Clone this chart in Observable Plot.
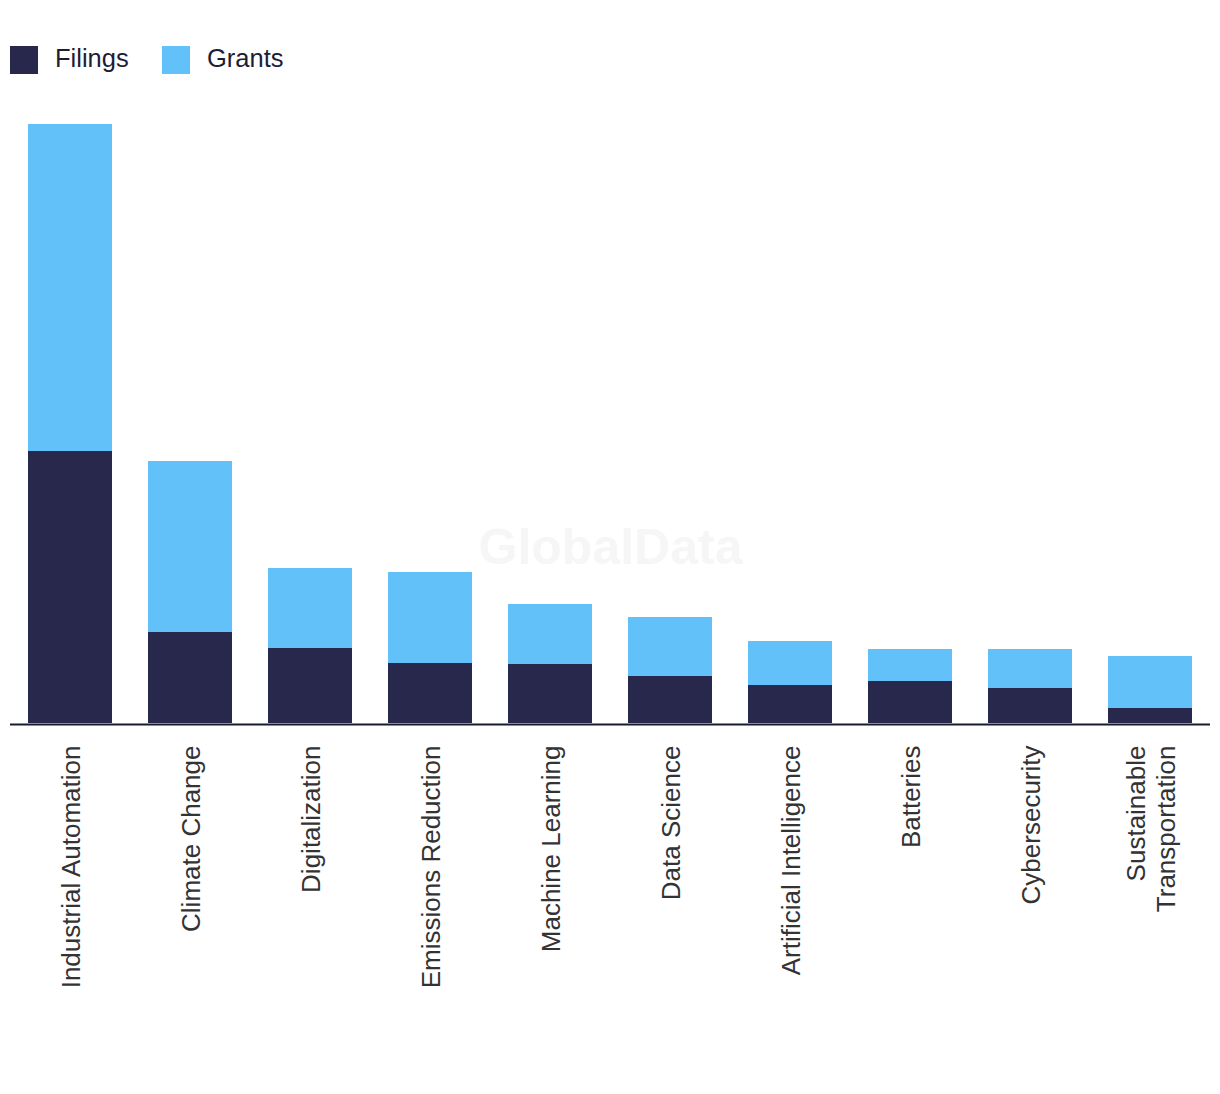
<!DOCTYPE html>
<html>
<head>
<meta charset="utf-8">
<script src="https://cdn.jsdelivr.net/npm/d3@7"></script>
<script src="https://cdn.jsdelivr.net/npm/@observablehq/plot@0.6"></script>
<style>
  html, body { margin: 0; padding: 0; background: #fff; }
  #wrap { position: relative; width: 1220px; height: 1094px; }
  #legend { position: relative; height: 100px; font-family: "Liberation Sans", Arial, sans-serif; font-size: 25.5px; color: #1d1d35; }
  .sw { position: absolute; top: 46px; width: 28px; height: 28px; }
  .lb { position: absolute; top: 42px; line-height: 32px; }
  #chart svg { display: block; }
</style>
</head>
<body>
<div id="wrap">
  <div id="legend"></div>
  <div id="chart"></div>
</div>
<script>
const categories = ["Industrial Automation", "Climate Change", "Digitalization", "Emissions Reduction", "Machine Learning", "Data Science", "Artificial Intelligence", "Batteries", "Cybersecurity", "Sustainable Transportation"];
const filings = [272, 91, 75, 60, 59, 47, 38, 42, 35, 15];
const grants = [327, 171, 80, 91, 60, 59, 44, 32, 39, 52];
const seriesNames = ["Filings", "Grants"];
const seriesColors = ["#27284c", "#62c1f9"];
const tickLabels = {"Sustainable Transportation": "Sustainable\nTransportation"};

// legend
const legend = document.getElementById("legend");
const legendX = [10, 162];
seriesNames.forEach((s, i) => {
  const sw = document.createElement("div");
  sw.className = "sw"; sw.style.left = legendX[i] + "px"; sw.style.background = seriesColors[i];
  const lb = document.createElement("div");
  lb.className = "lb"; lb.style.left = (legendX[i] + 45) + "px"; lb.textContent = s;
  legend.appendChild(sw); legend.appendChild(lb);
});

const table = [];
categories.forEach((c, i) => {
  table.push({category: c, series: "Filings", value: filings[i]});
  table.push({category: c, series: "Grants", value: grants[i]});
});

const chart = Plot.plot({
  width: 1220,
  height: 994,
  marginLeft: 10,
  marginRight: 10,
  marginTop: 24,
  marginBottom: 371,
  style: {fontFamily: "'Liberation Sans', Arial, sans-serif", background: "#fff"},
  x: {domain: categories, paddingInner: 0.3, paddingOuter: 0.15, label: null},
  y: {domain: [0, 599], axis: null},
  color: {domain: seriesNames, range: seriesColors},
  marks: [
    Plot.text(["GlobalData"], {frameAnchor: "middle", dy: 124, fill: "#f6f6f6", fontSize: 50, fontWeight: "bold", fontFamily: "'Liberation Sans', Arial, sans-serif"}),
    Plot.barY(table, {x: "category", y: "value", fill: "series", order: seriesNames}),
    Plot.ruleY([0], {stroke: "#1a1a2e", strokeWidth: 2, dy: 1}),
    Plot.axisX({tickSize: 0, tickPadding: 22, rotate: -90, textAnchor: "end", lineAnchor: "middle", lineHeight: 1.15, fontSize: 26, fill: "#333", tickFormat: d => tickLabels[d] || d, label: null})
  ]
});
document.getElementById("chart").appendChild(chart);
</script>
</body>
</html>
